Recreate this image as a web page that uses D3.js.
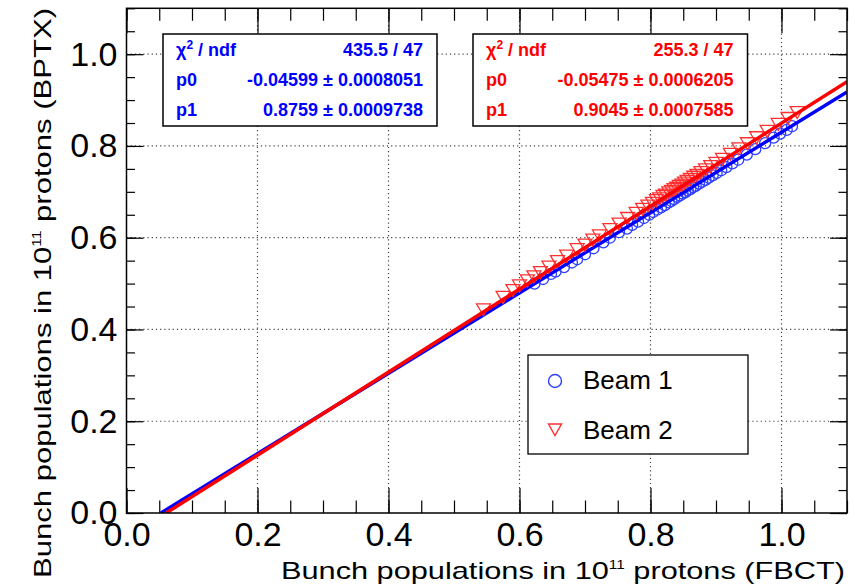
<!DOCTYPE html>
<html>
<head>
<meta charset="utf-8">
<script src="https://cdn.jsdelivr.net/npm/d3@7"></script>
<style>
  body { margin: 0; background: #fff; }
  svg { display: block; font-family: "Liberation Sans", Arial, Helvetica, sans-serif; }
</style>
</head>
<body>
<div id="chart"></div>
<script>
// Beam 1 (FBCT, BPTX) points, blue circles
var beam1X = [0.623, 0.636, 0.648, 0.655, 0.668, 0.680, 0.688, 0.700, 0.713, 0.728,
              0.738, 0.752, 0.764, 0.772, 0.781, 0.790, 0.798, 0.804, 0.810, 0.816,
              0.822, 0.828, 0.832, 0.836, 0.841, 0.845, 0.849, 0.853, 0.857, 0.861,
              0.865, 0.869, 0.874, 0.879, 0.884, 0.889, 0.895, 0.901, 0.908, 0.916,
              0.925, 0.934, 0.947, 0.960, 0.975, 0.988, 0.998, 1.008, 1.016];
var beam1Y = [0.500, 0.510, 0.521, 0.526, 0.536, 0.546, 0.553, 0.564, 0.577, 0.590,
              0.600, 0.612, 0.620, 0.628, 0.635, 0.643, 0.650, 0.656, 0.661, 0.666,
              0.671, 0.677, 0.680, 0.684, 0.689, 0.692, 0.696, 0.699, 0.703, 0.706,
              0.710, 0.713, 0.718, 0.722, 0.726, 0.731, 0.736, 0.741, 0.747, 0.754,
              0.762, 0.770, 0.781, 0.793, 0.806, 0.818, 0.827, 0.835, 0.843];

// Beam 2 points, red triangles
var beam2X = [0.545, 0.575, 0.590, 0.600, 0.612, 0.622, 0.632, 0.645, 0.658, 0.672,
              0.688, 0.700, 0.712, 0.722, 0.738, 0.752, 0.765, 0.778, 0.788, 0.796,
              0.803, 0.809, 0.814, 0.819, 0.823, 0.828, 0.832, 0.836, 0.840, 0.844,
              0.848, 0.852, 0.856, 0.861, 0.866, 0.871, 0.877, 0.884, 0.892, 0.900,
              0.910, 0.922, 0.935, 0.948, 0.962, 0.978, 0.995, 1.010, 1.024];
var beam2Y = [0.445, 0.472, 0.487, 0.497, 0.508, 0.517, 0.526, 0.538, 0.550, 0.562,
              0.576, 0.586, 0.597, 0.606, 0.620, 0.632, 0.644, 0.655, 0.664, 0.671,
              0.677, 0.683, 0.687, 0.692, 0.695, 0.700, 0.703, 0.707, 0.710, 0.714,
              0.717, 0.721, 0.725, 0.729, 0.734, 0.738, 0.744, 0.750, 0.757, 0.764,
              0.773, 0.784, 0.796, 0.807, 0.820, 0.834, 0.849, 0.862, 0.875];

// linear fit results [p0, p1]
var fit1 = [-0.04599, 0.8759];
var fit2 = [-0.05475, 0.9045];

var stats1 = [["χ", "435.5 / 47"], ["p0", "-0.04599 ± 0.0008051"], ["p1", "0.8759 ± 0.0009738"]];
var stats2 = [["χ", "255.3 / 47"], ["p0", "-0.05475 ± 0.0006205"], ["p1", "0.9045 ± 0.0007585"]];

var majorTicks = [0, 0.2, 0.4, 0.6, 0.8, 1.0];
var minorTicks = d3.range(0, 1.1001, 0.05);
var legendLabels = ["Beam 1", "Beam 2"];

function init(){
	var w = 855;
	var h = 587;
	var left = 126.5, right = 847, top = 8.3, bottom = 513;
	var blue = "#0000ff", red = "#ff0000";

	var xScale = d3.scaleLinear().domain([0, 1.1]).range([left, right]);
	var yScale = d3.scaleLinear().domain([0, 1.1]).range([bottom, top]);

	var svg = d3.select("#chart")
				.append("svg")
				.attr("width", w)
				.attr("height", h);

	svg.append("rect").attr("width", w).attr("height", h).attr("fill", "#fff");

	// dotted grid
	var grid = svg.append("g");
	grid.selectAll("line.gx")
		.data(majorTicks.slice(1))
		.enter().append("line")
		.attr("x1", function(d){ return xScale(d); })
		.attr("x2", function(d){ return xScale(d); })
		.attr("y1", top).attr("y2", bottom);
	grid.selectAll("line.gy")
		.data(majorTicks.slice(1))
		.enter().append("line")
		.attr("y1", function(d){ return yScale(d); })
		.attr("y2", function(d){ return yScale(d); })
		.attr("x1", left).attr("x2", right);
	grid.selectAll("line")
		.attr("stroke", "#444")
		.attr("stroke-width", 1.2)
		.attr("stroke-dasharray", "1.2,3");

	// axes: ticks pointing inward on every side
	function addAxis(axis, tx, ty, size, vals, labels){
		var g = svg.append("g")
			.attr("transform", "translate(" + tx + "," + ty + ")")
			.call(axis.tickValues(vals).tickSize(-size).tickPadding(9)
				.tickFormat(labels ? d3.format(".1f") : ""));
		g.select(".domain").remove();
		g.selectAll("line").attr("stroke", "#000").attr("stroke-width", 1.2);
		g.selectAll("text").attr("font-size", 34).attr("fill", "#000")
			.attr("font-family", "Liberation Sans, Arial, sans-serif");
		return g;
	}
	addAxis(d3.axisBottom(xScale), 0, bottom, 12.5, minorTicks, false);
	addAxis(d3.axisBottom(xScale), 0, bottom, 25, majorTicks, true);
	addAxis(d3.axisTop(xScale), 0, top, 12.5, minorTicks, false);
	addAxis(d3.axisTop(xScale), 0, top, 25, majorTicks, false);
	addAxis(d3.axisLeft(yScale), left, 0, 8.5, minorTicks, false);
	addAxis(d3.axisLeft(yScale), left, 0, 17, majorTicks, true);
	addAxis(d3.axisRight(yScale), right, 0, 8.5, minorTicks, false);
	addAxis(d3.axisRight(yScale), right, 0, 17, majorTicks, false);

	svg.append("clipPath").attr("id", "frame")
		.append("rect").attr("x", left).attr("y", top)
		.attr("width", right - left).attr("height", bottom - top);

	var plot = svg.append("g").attr("clip-path", "url(#frame)");

	function fitLine(p){
		var x0 = -p[0] / p[1];
		return [[x0, 0], [1.1, p[0] + p[1] * 1.1]];
	}
	var line = d3.line()
		.x(function(d){ return xScale(d[0]); })
		.y(function(d){ return yScale(d[1]); });

	var tri = "M-7,-5L7,-5L0,7Z";

	// beam 1
	plot.selectAll("circle.b1")
		.data(d3.zip(beam1X, beam1Y))
		.enter().append("circle")
		.attr("cx", function(d){ return xScale(d[0]); })
		.attr("cy", function(d){ return yScale(d[1]); })
		.attr("r", 5.5)
		.attr("fill", "none")
		.attr("stroke", "#3040ff")
		.attr("stroke-width", 1.3);
	plot.append("path")
		.attr("d", line(fitLine(fit1)))
		.attr("stroke", blue).attr("stroke-width", 3.5).attr("fill", "none");

	// beam 2
	plot.selectAll("path.b2")
		.data(d3.zip(beam2X, beam2Y))
		.enter().append("path")
		.attr("d", tri)
		.attr("transform", function(d){
			return "translate(" + xScale(d[0]) + "," + yScale(d[1]) + ")";
		})
		.attr("fill", "none")
		.attr("stroke", "#ff3030")
		.attr("stroke-width", 1.3);
	plot.append("path")
		.attr("d", line(fitLine(fit2)))
		.attr("stroke", red).attr("stroke-width", 3.5).attr("fill", "none");

	// frame
	svg.append("rect")
		.attr("x", left).attr("y", top)
		.attr("width", right - left).attr("height", bottom - top)
		.attr("fill", "none").attr("stroke", "#000").attr("stroke-width", 1.5);

	// fit statistics boxes
	function statsBox(x0, x1, rows, color){
		var g = svg.append("g");
		g.append("rect")
			.attr("x", x0).attr("y", 34)
			.attr("width", x1 - x0).attr("height", 92)
			.attr("fill", "#fff").attr("stroke", "#000").attr("stroke-width", 1.5);
		rows.forEach(function(r, i){
			var y = 56 + i * 30;
			var t = g.append("text").attr("x", x0 + 13).attr("y", y)
				.attr("font-size", 18).attr("font-weight", "bold").attr("fill", color);
			if (i == 0){
				t.append("tspan").text(r[0]);
				t.append("tspan").attr("dy", -7).attr("font-size", 12).text("2");
				t.append("tspan").attr("dy", 7).text(" / ndf");
			} else {
				t.text(r[0]);
			}
			g.append("text").attr("x", x1 - 14).attr("y", y)
				.attr("text-anchor", "end")
				.attr("font-size", 18).attr("font-weight", "bold").attr("fill", color)
				.text(r[1]);
		});
	}
	statsBox(163, 437, stats1, blue);
	statsBox(473, 747.5, stats2, red);

	// legend
	var leg = svg.append("g");
	leg.append("rect")
		.attr("x", 528).attr("y", 355).attr("width", 220).attr("height", 99)
		.attr("fill", "#fff").attr("stroke", "#000").attr("stroke-width", 1.3);
	leg.append("circle").attr("cx", 555).attr("cy", 381).attr("r", 6.5)
		.attr("fill", "none").attr("stroke", "#3040ff").attr("stroke-width", 1.4);
	leg.append("path").attr("d", "M-6.5,-5L6.5,-5L0,6.5Z").attr("transform", "translate(555,429)")
		.attr("fill", "none").attr("stroke", "#ff3030").attr("stroke-width", 1.4);
	leg.selectAll("text.leg")
		.data(legendLabels)
		.enter().append("text")
		.attr("x", 583)
		.attr("y", function(d, i){ return 389 + i * 50; })
		.attr("font-size", 26)
		.attr("fill", "#000")
		.text(function(d){ return d; });

	// axis titles
	var xt = svg.append("text")
		.attr("x", 281).attr("y", 579)
		.attr("font-size", 24).attr("fill", "#000")
		.attr("textLength", 564).attr("lengthAdjust", "spacingAndGlyphs");
	xt.append("tspan").text("Bunch populations in 10");
	xt.append("tspan").attr("dy", -10).attr("font-size", 12).text("11");
	xt.append("tspan").attr("dy", 10).text(" protons (FBCT)");

	var yt = svg.append("text")
		.attr("transform", "translate(51,578) rotate(-90)")
		.attr("font-size", 24).attr("fill", "#000")
		.attr("textLength", 570).attr("lengthAdjust", "spacingAndGlyphs");
	yt.append("tspan").text("Bunch populations in 10");
	yt.append("tspan").attr("dy", -10).attr("font-size", 12).text("11");
	yt.append("tspan").attr("dy", 10).text(" protons (BPTX)");
}

window.onload = init;
</script>
</body>
</html>
